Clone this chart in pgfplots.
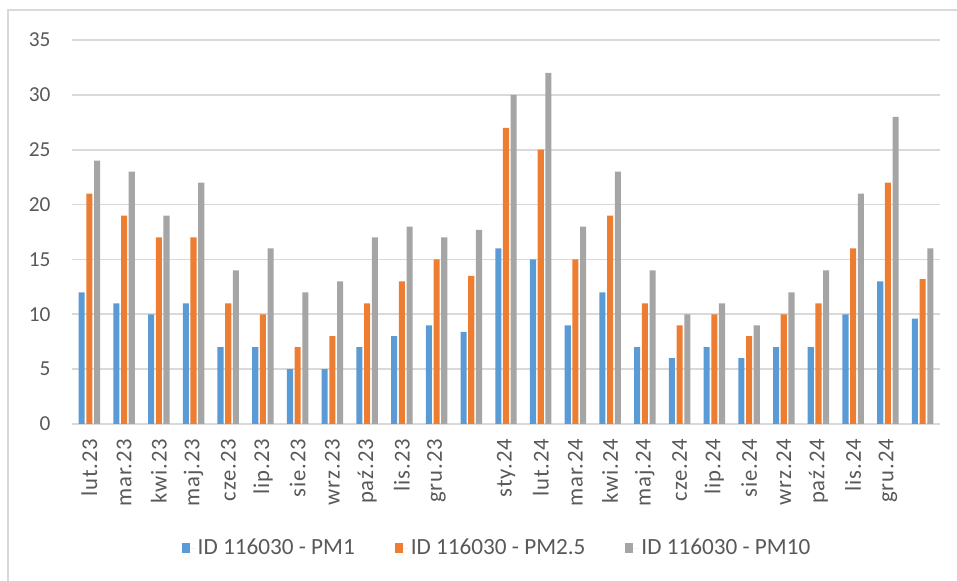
\documentclass[border=0pt]{standalone}
\usepackage{fontspec}
\setmainfont{Carlito}
\usepackage{pgfplots}
\usepackage{pgfplotstable}
\pgfplotsset{compat=1.18}

\definecolor{pmblue}{HTML}{5B9BD5}
\definecolor{pmorange}{HTML}{ED7D31}
\definecolor{pmgray}{HTML}{A5A5A5}
\definecolor{txt}{HTML}{595959}
\definecolor{gridc}{HTML}{D9D9D9}

% x = category index (11 and 24 have no label)
\pgfplotstableread{
x  pm1  pm25  pm10
0  12   21    24
1  11   19    23
2  10   17    19
3  11   17    22
4  7    11    14
5  7    10    16
6  5    7     12
7  5    8     13
8  7    11    17
9  8    13    18
10 9    15    17
11 8.4  13.5  17.7
12 16   27    30
13 15   25    32
14 9    15    18
15 12   19    23
16 7    11    14
17 6    9     10
18 7    10    11
19 6    8     9
20 7    10    12
21 7    11    14
22 10   16    21
23 13   22    28
24 9.6  13.2  16
}\pm

\begin{document}
\begin{tikzpicture}
\path[use as bounding box] (-54pt,-117.75pt) rectangle (663.75pt,318pt);
\draw[gridc, line width=1.1pt] (-48pt,-118pt) -- (-48pt,310.5pt) -- (664pt,310.5pt);
\begin{axis}[
  at={(0,0)}, anchor=south west,
  scale only axis,
  width=651pt, height=288pt,
  ybar,
  xmin=-0.5, xmax=24.5,
  ymin=0, ymax=35,
  ytick={0,5,...,35},
  xtick={0,...,24},
  xticklabels={lut.23,mar.23,kwi.23,maj.23,cze.23,lip.23,sie.23,wrz.23,paź.23,lis.23,gru.23,{},sty.24,lut.24,mar.24,kwi.24,maj.24,cze.24,lip.24,sie.24,wrz.24,paź.24,lis.24,gru.24,{}},
  bar width=0.175,
  major tick length=0pt,
  axis line style={draw=none},
  ymajorgrids,
  grid style={gridc, line width=1.2pt},
  /pgf/number format/assume math mode=true,
  tick label style={text=txt},
  yticklabel style={anchor=east, inner sep=0pt, font=\fontsize{16}{19}\selectfont},
  yticklabel shift=16pt,
  xticklabel style={rotate=90, anchor=east, inner sep=0pt,
    font=\addfontfeature{LetterSpace=4}\fontsize{17}{20}\selectfont},
  xticklabel shift=11pt,
  legend columns=3,
  legend style={at={(0.49,-0.323)}, anchor=center, draw=none, text=txt,
    font=\fontsize{17.4}{20}\selectfont,
    /tikz/every even column/.append style={column sep=28pt}},
  legend image code/.code={\fill[#1] (0pt,-4pt) rectangle (6pt,4pt); \path (0pt,0pt) -- (10pt,0pt);},
]
\addplot[fill=pmblue, draw=none, bar shift=-0.222] table[x=x, y=pm1] {\pm};
\addplot[fill=pmorange, draw=none, bar shift=0] table[x=x, y=pm25] {\pm};
\addplot[fill=pmgray, draw=none, bar shift=0.222] table[x=x, y=pm10] {\pm};
\legend{ID 116030 - PM1, ID 116030 - PM2.5, ID 116030 - PM10}
\end{axis}
\end{tikzpicture}
\end{document}
